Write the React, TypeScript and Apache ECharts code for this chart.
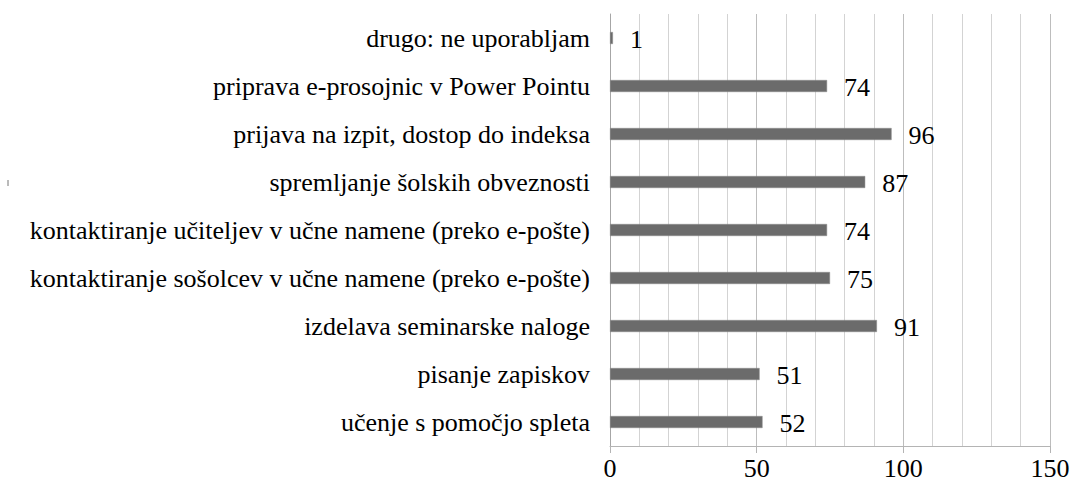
import React, { useEffect, useRef } from "react";
import * as echarts from "echarts";

const categories = [
  "učenje s pomočjo spleta",
  "pisanje zapiskov",
  "izdelava seminarske naloge",
  "kontaktiranje sošolcev v učne namene (preko e-pošte)",
  "kontaktiranje učiteljev v učne namene (preko e-pošte)",
  "spremljanje šolskih obveznosti",
  "prijava na izpit, dostop do indeksa",
  "priprava e-prosojnic v Power Pointu",
  "drugo: ne uporabljam",
];
const values = [52, 51, 91, 75, 74, 87, 96, 74, 1];
const xTicks = [0, 50, 100, 150];

const FONT_SIZE = 26;
const FONT = FONT_SIZE + "px 'Liberation Serif'";

export default function App() {
  const ref = useRef<HTMLDivElement>(null);
  useEffect(() => {
    if (!ref.current) return;
    const chart = echarts.init(ref.current, null, { renderer: "svg" });
    const baseOption: any = {
      animation: false,
      backgroundColor: "#ffffff",
      grid: { left: 610, right: 22, top: 14, bottom: 40, containLabel: false },
      xAxis: {
        type: "value",
        min: 0,
        max: 150,
        interval: 50,
        axisLine: { show: true, lineStyle: { color: "#b4b4b4", width: 1 } },
        axisTick: { show: true, length: 7, lineStyle: { color: "#b4b4b4" } },
        axisLabel: { show: false },
        splitLine: { show: true, lineStyle: { color: "#bdbdbd", width: 1 } },
        minorTick: { show: false, splitNumber: 5 },
        minorSplitLine: { show: true, lineStyle: { color: "#d3d3d3", width: 1 } },
      },
      yAxis: {
        type: "category",
        data: categories,
        axisLine: { show: true, lineStyle: { color: "#a6a6a6", width: 1 } },
        axisTick: { show: false },
        axisLabel: { show: false },
        splitLine: { show: false },
      },
      series: [
        {
          type: "bar",
          data: values,
          barWidth: 12,
          itemStyle: { color: "#6b6b6b", borderColor: "#8a8a8a", borderWidth: 0.5 },
          label: { show: false },
        },
      ],
    };
    chart.setOption(baseOption);

    const ctx = document.createElement("canvas").getContext("2d") as CanvasRenderingContext2D;
    ctx.font = FONT;
    const measure = (s: string) => ctx.measureText(s).width;
    const half = FONT_SIZE / 2;

    const gridRect = (chart as any).getModel().getComponent("grid", 0).coordinateSystem.getRect();
    const texts: any[] = [];
    categories.forEach((c, i) => {
      const p0 = chart.convertToPixel({ gridIndex: 0 }, [0, i]) as number[];
      texts.push({
        type: "text",
        x: p0[0] - 20 - measure(c),
        y: p0[1] - half,
        style: { text: c, font: FONT, fill: "#000" },
      });
      const pv = chart.convertToPixel({ gridIndex: 0 }, [values[i], i]) as number[];
      texts.push({
        type: "text",
        x: pv[0] + 17,
        y: pv[1] + 1 - half,
        style: { text: String(values[i]), font: FONT, fill: "#000" },
      });
    });
    xTicks.forEach((t) => {
      const px = chart.convertToPixel({ xAxisIndex: 0 }, t) as number;
      const s = String(t);
      texts.push({
        type: "text",
        x: px - measure(s) / 2,
        y: gridRect.y + gridRect.height + 9,
        style: { text: s, font: FONT, fill: "#000" },
      });
    });
    texts.push({ type: "line", shape: { x1: 8, y1: 180, x2: 8, y2: 186 }, style: { stroke: "#777", lineWidth: 1 } });
    chart.setOption({ graphic: texts });

    return () => chart.dispose();
  }, []);
  return (
    <div
      ref={ref}
      style={{ position: "fixed", left: 0, top: 0, width: 1072, height: 486 }}
    />
  );
}
